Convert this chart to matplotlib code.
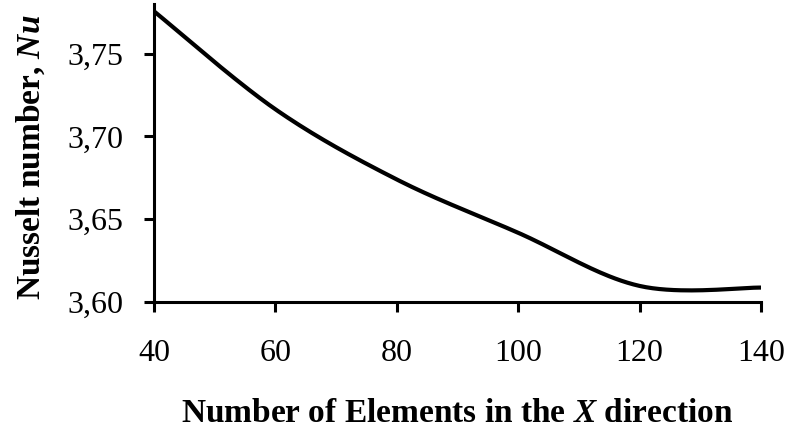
import numpy as np
import matplotlib
matplotlib.use("Agg")
import matplotlib.pyplot as plt
from matplotlib.ticker import FuncFormatter

plt.rcParams['font.family'] = ['Liberation Serif', 'DejaVu Serif']
plt.rcParams['mathtext.fontset'] = 'custom'
plt.rcParams['mathtext.rm'] = 'Liberation Serif'
plt.rcParams['mathtext.it'] = 'Liberation Serif:italic'
plt.rcParams['mathtext.bf'] = 'Liberation Serif:bold'
plt.rcParams['mathtext.bfit'] = 'Liberation Serif:bold:italic'

# mesh study: elements in X direction vs Nusselt number
elements = [40, 60, 80, 100, 120, 140]
nusselt = [3.7756, 3.7164, 3.674, 3.6418, 3.6097, 3.6087]


def smooth_curve(x, y, n=40):
    # Catmull-Rom style smoothing (like a spreadsheet "smoothed line")
    x = np.asarray(x, float)
    y = np.asarray(y, float)
    xs, ys = [], []
    for i in range(len(x) - 1):
        i0 = max(i - 1, 0)
        i3 = min(i + 2, len(x) - 1)
        mx0 = (x[i + 1] - x[i0]) / 2
        my0 = (y[i + 1] - y[i0]) / 2
        mx1 = (x[i3] - x[i]) / 2
        my1 = (y[i3] - y[i]) / 2
        t = np.linspace(0, 1, n, endpoint=(i == len(x) - 2))
        h00 = 2 * t**3 - 3 * t**2 + 1
        h10 = t**3 - 2 * t**2 + t
        h01 = -2 * t**3 + 3 * t**2
        h11 = t**3 - t**2
        xs.append(h00 * x[i] + h10 * mx0 + h01 * x[i + 1] + h11 * mx1)
        ys.append(h00 * y[i] + h10 * my0 + h01 * y[i + 1] + h11 * my1)
    return np.concatenate(xs), np.concatenate(ys)


fig = plt.figure(figsize=(7.89, 4.30), dpi=100)
ax = fig.add_axes([0.1952, 0.2977, 0.7693, 0.693])

sx, sy = smooth_curve(elements, nusselt)
ax.plot(sx, sy, color='black', lw=3.0, solid_capstyle='butt')

ax.set_xlim(40, 140)
ax.set_ylim(3.60, 3.78)
ax.set_xticks([40, 60, 80, 100, 120, 140])
ax.set_yticks([3.60, 3.65, 3.70, 3.75])
ax.yaxis.set_major_formatter(FuncFormatter(lambda v, p: f"{v:.2f}".replace('.', ',')))

for side in ['top', 'right']:
    ax.spines[side].set_visible(False)
for side in ['left', 'bottom']:
    ax.spines[side].set_linewidth(2.2)
ax.tick_params(direction='out', length=7, width=2.2, labelsize=23)
ax.tick_params(axis='x', pad=20)
ax.tick_params(axis='y', pad=15)

ax.set_xlabel(r"Number of Elements in the $\mathbfit{X}$ direction",
              fontsize=24, fontweight='bold', labelpad=21)
ax.set_ylabel(r"Nusselt number, $\mathbfit{Nu}$",
              fontsize=24, fontweight='bold')
ax.yaxis.set_label_coords(-0.177, 0.485)

fig.savefig("out.png", dpi=100)
